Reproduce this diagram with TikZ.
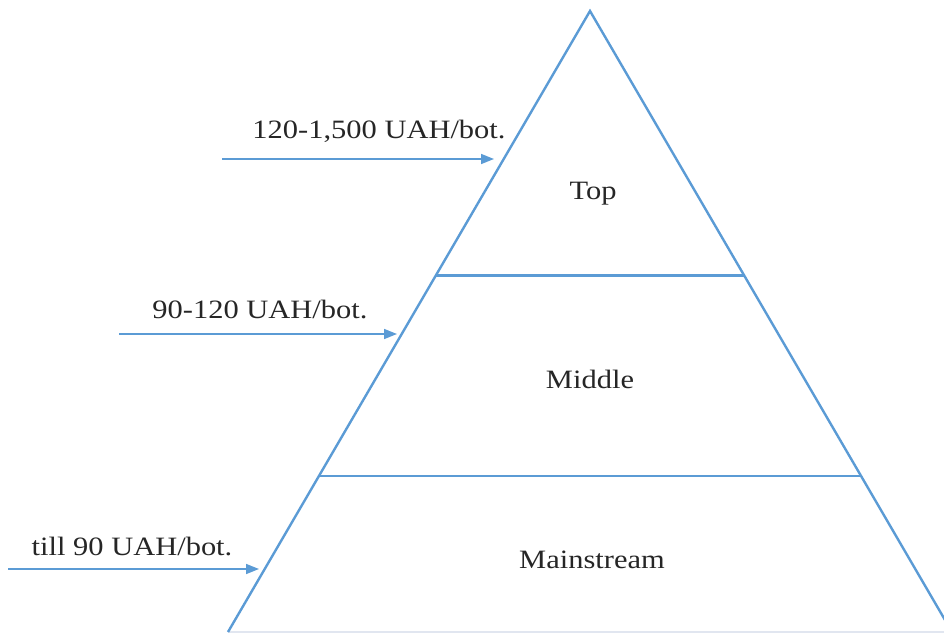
\documentclass[tikz,border=0pt]{standalone}
\usepackage{fontspec}
\setmainfont{Liberation Serif}[FakeStretch=1.15]
\usetikzlibrary{arrows.meta,calc}
\definecolor{pyr}{RGB}{91,155,213}
\definecolor{baseln}{RGB}{225,230,240}
\begin{document}
\begin{tikzpicture}[x=1pt,y=1pt,
  edge/.style={draw=pyr,line width=2.4pt,line join=miter},
  arr/.style={draw=pyr,line width=1.6pt,-{Triangle[length=13pt,width=10pt]}},
  lbl/.style={font=\fontsize{26.5}{30}\selectfont,inner sep=0pt,anchor=base,text=black!85},
  tier/.style={font=\fontsize{26.5}{30}\selectfont,inner sep=0pt,anchor=base,text=black!85}]
\useasboundingbox (0,0) rectangle (944,633);
\clip (0,0) rectangle (944,633);
\coordinate (apex) at (590,622);
\coordinate (bl) at (228,1);
\coordinate (br) at (952,1);
\coordinate (l1) at ($(apex)!0.426!(bl)$);
\coordinate (r1) at ($(apex)!0.426!(br)$);
\coordinate (l2) at ($(apex)!0.749!(bl)$);
\coordinate (r2) at ($(apex)!0.749!(br)$);
% pyramid
\draw[draw=baseln,line width=1.5pt] (bl) -- (br);
\draw[edge] (bl) -- (apex) -- (br);
\draw[edge] (l1) -- (r1);
\draw[edge] (l2) -- (r2);
% tier labels
\node[tier] (top) at (593,434) {Top};
\node[tier] (mid) at (590,245) {Middle};
\node[tier] (main) at (592,65) {Mainstream};
% price labels and arrows
\node[lbl] (p1) at (379,494) {120-1,500 UAH/bot.};
\node[lbl] (p2) at (260,315) {90-120 UAH/bot.};
\node[lbl] (p3) at (132,78) {till 90 UAH/bot.};
\coordinate (a1s) at (222,474);
\coordinate (a1e) at (494,474);
\coordinate (a2s) at (119,299);
\coordinate (a2e) at (397,299);
\coordinate (a3s) at (8,64);
\coordinate (a3e) at (259,64);
\draw[arr] (a1s) -- (a1e);
\draw[arr] (a2s) -- (a2e);
\draw[arr] (a3s) -- (a3e);
\end{tikzpicture}
\end{document}
